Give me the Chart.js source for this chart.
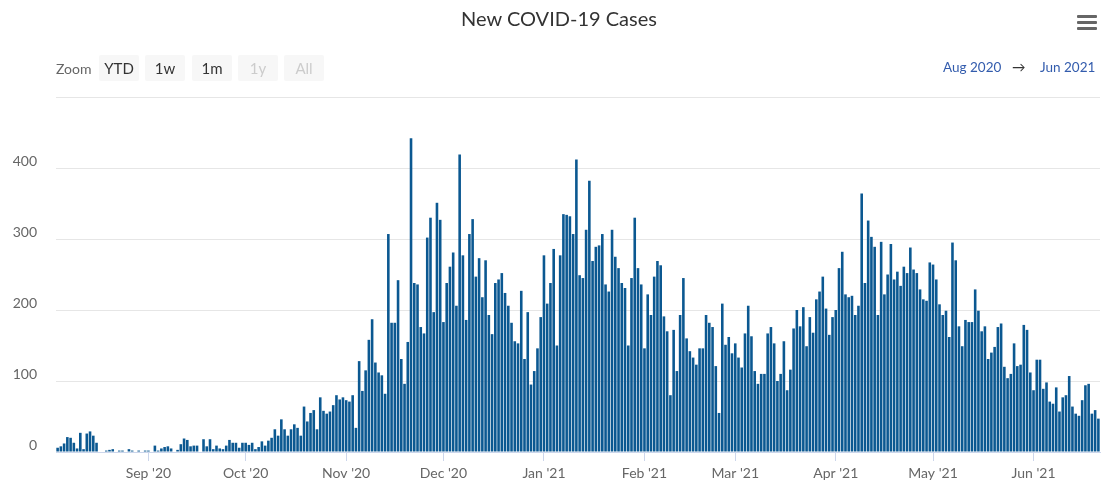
<!DOCTYPE html>
<html>
<head>
<meta charset="utf-8">
<script src="https://cdn.jsdelivr.net/npm/chart.js@4"></script>
<style>
  body { margin: 0; background: #fff; font-family: Lato, sans-serif; }
  #wrap { position: relative; width: 1118px; height: 502px; }
  .titulo { position: absolute; left: 0; width: 1118px; top: 6px; text-align: center; font-size: 20px; color: #333; }
  .menu { position: absolute; left: 1077px; width: 20px; height: 3px; background: #666; border-radius: 1px; }
  .zoomlbl { position: absolute; left: 56px; top: 60px; font-size: 14px; color: #666; }
  .btn { position: absolute; top: 55px; width: 40px; height: 26px; line-height: 26px; background: #f7f7f7; border-radius: 2px; text-align: center; font-size: 15px; color: #333; }
  .btn.off { color: #ccc; }
  .range { position: absolute; top: 59px; font-size: 13.5px; color: #335cad; }
</style>
</head>
<body>
<div id="wrap">
  <canvas id="casosGrafico"></canvas>
  <div class="titulo">New COVID-19 Cases</div>
  <div class="menu" style="top:15px"></div>
  <div class="menu" style="top:21px"></div>
  <div class="menu" style="top:27px"></div>
  <div class="zoomlbl">Zoom</div>
  <div class="btn" style="left:99px">YTD</div>
  <div class="btn" style="left:145px">1w</div>
  <div class="btn" style="left:192px">1m</div>
  <div class="btn off" style="left:238px">1y</div>
  <div class="btn off" style="left:284px">All</div>
  <div class="range" style="left:943px">Aug 2020</div>
  <div class="range" style="left:1012px; color:#333">&rarr;</div>
  <div class="range" style="left:1040px">Jun 2021</div>
</div>
<script>
// CASOS DIARIOS POR MES (AGO 2020 COMECA NO DIA 4)
const aug20 = [6, 8, 12, 21, 20, 13, 5, 27, 4, 26, 29, 23, 13, 0, 0, 2, 3, 4, 0, 2, 2, 0, 4, 2, 0, 2, 0, 2];
const sep20 = [2, 0, 9, 2, 5, 7, 8, 5, 0, 3, 11, 19, 17, 8, 9, 9, 0, 18, 8, 18, 4, 9, 5, 4, 9, 17, 13, 13, 6, 13];
const oct20 = [13, 10, 13, 4, 7, 15, 9, 16, 20, 32, 23, 46, 32, 23, 32, 39, 34, 23, 64, 43, 55, 59, 32, 77, 58, 54, 57, 66, 80, 74, 77];
const nov20 = [73, 71, 80, 34, 128, 86, 115, 158, 187, 126, 112, 108, 82, 307, 182, 182, 242, 131, 96, 155, 442, 238, 236, 176, 167, 302, 330, 197, 351, 327];
const dec20 = [183, 238, 261, 281, 206, 419, 277, 186, 307, 328, 247, 273, 218, 270, 193, 166, 238, 243, 252, 224, 206, 182, 156, 153, 227, 131, 197, 95, 114, 146, 190];
const jan21 = [277, 209, 238, 286, 150, 277, 335, 334, 332, 307, 412, 249, 245, 313, 382, 269, 289, 291, 307, 236, 226, 313, 275, 259, 238, 231, 150, 245, 330, 259, 236];
const feb21 = [146, 222, 193, 247, 269, 263, 191, 170, 80, 172, 114, 193, 245, 160, 142, 133, 123, 146, 146, 193, 182, 176, 121, 55, 209, 151, 162, 139];
const mar21 = [153, 133, 119, 167, 206, 163, 114, 96, 110, 110, 167, 176, 153, 100, 110, 156, 87, 116, 174, 200, 177, 204, 149, 190, 168, 215, 226, 247, 202, 165, 190];
const apr21 = [200, 259, 282, 222, 218, 220, 193, 206, 364, 238, 326, 303, 289, 193, 296, 222, 250, 293, 243, 254, 234, 261, 252, 288, 257, 252, 229, 215, 213, 267];
const may21 = [264, 243, 208, 193, 199, 162, 295, 270, 177, 149, 186, 183, 183, 229, 199, 170, 177, 131, 140, 148, 176, 181, 120, 104, 110, 153, 121, 123, 179, 172, 112];
const jun21 = [87, 130, 130, 89, 98, 71, 68, 91, 57, 77, 80, 107, 64, 54, 51, 73, 94, 96, 54, 59, 47];

const meses = ["Aug '20", "Sep '20", "Oct '20", "Nov '20", "Dec '20", "Jan '21", "Feb '21", "Mar '21", "Apr '21", "May '21", "Jun '21"];
const primeiroDia = [4, 1, 1, 1, 1, 1, 1, 1, 1, 1, 1];
const yTicks = [0, 100, 200, 300, 400, 500];

const porMes = [aug20, sep20, oct20, nov20, dec20, jan21, feb21, mar21, apr21, may21, jun21];
const labels_dias = [];
const casosVetor = [];
porMes.forEach((vals, m) => {
    vals.forEach((v, i) => {
        const dia = primeiroDia[m] + i;
        labels_dias.push(dia === 1 ? meses[m] : meses[m] + ' ' + dia);
        casosVetor.push(v);
    });
});

const ehMes = (i) => meses.includes(labels_dias[i]);
const fonte = { family: 'Lato', size: 14 };

const casos = document.getElementById('casosGrafico');
const casos_config = {
    type: 'bar',
    data: {
        labels: labels_dias,
        datasets: [{
            label: 'New cases',
            data: casosVetor,
            backgroundColor: '#0b5891',
            borderWidth: 0,
            barPercentage: 0.8,
            categoryPercentage: 1
        }]
    },
    options: {
        maintainAspectRatio: false,
        animation: false,
        layout: { padding: { left: 0, right: 18, top: 97, bottom: 10 } },
        plugins: { legend: { display: false }, tooltip: { enabled: false } },
        scales: {
            x: {
                afterFit: (s) => { s.height = 40; },
                border: { color: '#ccd6eb' },
                grid: {
                    offset: false,
                    drawOnChartArea: false,
                    drawTicks: true,
                    tickLength: 9,
                    color: (ctx) => ehMes(ctx.index) ? '#ccd6eb' : 'rgba(0,0,0,0)'
                },
                ticks: {
                    autoSkip: false,
                    maxRotation: 0,
                    padding: 4,
                    color: '#666',
                    font: fonte,
                    callback: (v, i) => ehMes(i) ? labels_dias[i] : ''
                }
            },
            y: {
                min: 0,
                max: 500,
                afterFit: (s) => { s.width = 56; },
                afterBuildTicks: (s) => { s.ticks = yTicks.map(v => ({ value: v })); },
                border: { display: false },
                grid: { color: '#e6e6e6', drawTicks: false },
                ticks: {
                    padding: 19,
                    labelOffset: -7,
                    color: '#666',
                    font: fonte,
                    callback: (v) => v === 500 ? '' : v
                }
            }
        }
    }
};

const grafico_casos = new Chart(casos, casos_config);
</script>
</body>
</html>
